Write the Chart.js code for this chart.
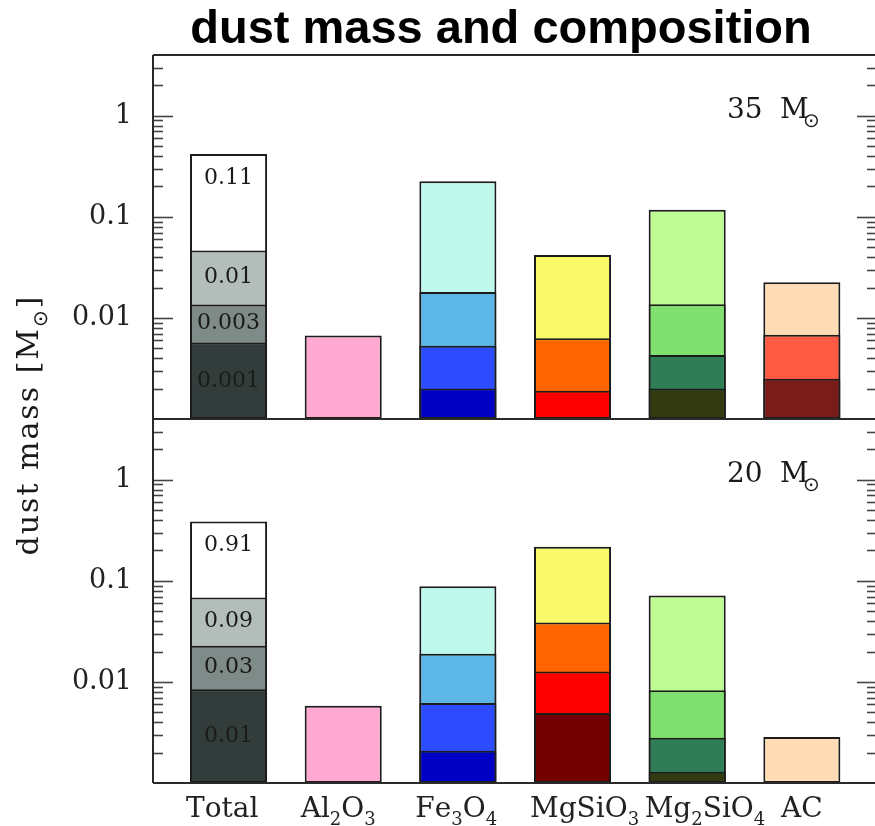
<!DOCTYPE html>
<html><head><meta charset="utf-8">
<script src="https://cdn.jsdelivr.net/npm/chart.js@4/dist/chart.umd.min.js"></script>
<style>html,body{margin:0;padding:0;background:#fff;overflow:hidden}</style>
</head><body>
<canvas id="c" width="875" height="826"></canvas>
<script>
// ---- data ----
const categories = ['Total', 'Al₂O₃', 'Fe₃O₄', 'MgSiO₃', 'Mg₂SiO₄', 'AC'];
const yTickValues = [0.01, 0.1, 1];
const panelMasses = ['35', '20'];
// 35 Msun panel: layers from outermost (largest) to innermost
const m35Layer1 = [0.42, 0.0067, 0.225, 0.042, 0.118, 0.0225];
const m35Layer2 = [0.0465, null, 0.0181, 0.0063, 0.0137, 0.0068];
const m35Layer3 = [0.0136, null, 0.0053, 0.0019, 0.0043, 0.0025];
const m35Layer4 = [0.0057, null, 0.0020, null, 0.0020, null];
// 20 Msun panel
const m20Layer1 = [0.388, 0.0058, 0.0885, 0.218, 0.0716, 0.00286];
const m20Layer2 = [0.0684, null, 0.019, 0.0388, 0.00826, null];
const m20Layer3 = [0.0228, null, 0.0062, 0.0127, 0.0028, null];
const m20Layer4 = [0.00845, null, 0.00208, 0.00493, 0.00129, null];
// labels written inside the Total bar
const totalLabels35 = ['0.11', '0.01', '0.003', '0.001'];
const totalLabels20 = ['0.91', '0.09', '0.03', '0.01'];

// ---- colours per layer, per category ----
const layer1Colors = ['#ffffff', '#ffa8d2', '#bff9ec', '#f9f96a', '#c0fc94', '#ffdcb6'];
const layer2Colors = ['#b3bdba', '#ffa8d2', '#5cb7e6', '#ff6400', '#80e070', '#ff5a44'];
const layer3Colors = ['#7e8b88', '#ffa8d2', '#2e4cff', '#ff0000', '#2f7d57', '#7a1c1a'];
const layer4Colors = ['#323d3b', '#ffa8d2', '#0000c4', '#720000', '#333a10', '#7a1c1a'];

function makeDs(values, colors, axis, order, name) {
  return {
    label: name,
    data: values.map((v, i) => (v == null ? null : { x: i + 1, y: v })).filter(Boolean),
    yAxisID: axis,
    order: order,
    backgroundColor: (c) => colors[c.raw.x - 1],
    borderColor: '#1c1c1c',
    borderWidth: 2,
    borderSkipped: false,
    barPercentage: 0.84,
    categoryPercentage: 0.8
  };
}

const datasets = [
  makeDs(m35Layer1, layer1Colors, 'yTop', 4, '35-1'),
  makeDs(m35Layer2, layer2Colors, 'yTop', 3, '35-2'),
  makeDs(m35Layer3, layer3Colors, 'yTop', 2, '35-3'),
  makeDs(m35Layer4, layer4Colors, 'yTop', 1, '35-4'),
  makeDs(m20Layer1, layer1Colors, 'yBot', 4, '20-1'),
  makeDs(m20Layer2, layer2Colors, 'yBot', 3, '20-2'),
  makeDs(m20Layer3, layer3Colors, 'yBot', 2, '20-3'),
  makeDs(m20Layer4, layer4Colors, 'yBot', 1, '20-4')
];

const serif = '"DejaVu Serif", "Liberation Serif", serif';
const SUBS = '₀₁₂₃₄₅₆₇₈₉';

function yScale(weight) {
  return {
    type: 'logarithmic',
    min: 0.001, max: 4,
    position: 'left',
    stack: 'panels',
    stackWeight: 1,
    weight: weight,
    afterBuildTicks: (s) => { s.ticks = yTickValues.map(v => ({ value: v })); },
    afterFit: (s) => { s.width = 153; },
    grid: { display: false, drawTicks: false },
    border: { display: false },
    ticks: { font: { family: serif, size: 27 }, color: '#222', padding: 21, autoSkip: false,
      callback: (v) => String(v) }
  };
}

// draw a label, turning unicode subscript digits into lowered smaller digits
function drawSubText(ctx, text, cx, barLeft, baseline, size) {
  const parts = [];
  for (const ch of text) {
    const k = SUBS.indexOf(ch);
    if (k >= 0) parts.push({ t: String(k), sub: true });
    else parts.push({ t: ch, sub: false });
  }
  const mainFont = size + 'px ' + serif, subFont = Math.round(size * 0.64) + 'px ' + serif;
  let w = 0;
  parts.forEach(p => { ctx.font = p.sub ? subFont : mainFont; p.w = ctx.measureText(p.t).width; w += p.w; });
  let x = w < 60 ? cx - w / 2 : barLeft - 4;
  ctx.textAlign = 'left'; ctx.textBaseline = 'alphabetic';
  parts.forEach(p => {
    ctx.font = p.sub ? subFont : mainFont;
    ctx.fillText(p.t, x, baseline + (p.sub ? size * 0.3 : 0));
    x += p.w;
  });
}

const decor = {
  id: 'decor',
  afterDraw(chart) {
    const ctx = chart.ctx, ca = chart.chartArea;
    const yT = chart.scales.yTop, yB = chart.scales.yBot, xs = chart.scales.x;
    const rightEdge = ca.right + 2;
    ctx.save();
    const line = (x1, y1, x2, y2) => { ctx.beginPath(); ctx.moveTo(x1, y1); ctx.lineTo(x2, y2); ctx.stroke(); };
    // inward tick marks on both sides
    ctx.strokeStyle = '#444'; ctx.lineWidth = 1.6;
    [yT, yB].forEach(s => {
      for (let e = -3; e <= 0; e++) for (let m = 1; m <= 9; m++) {
        const v = Number((m * Math.pow(10, e)).toPrecision(3));
        if (v <= s.min * 1.001 || v >= s.max * 0.999) continue;
        const y = Math.round(s.getPixelForValue(v)) + 0.5;
        const len = m === 1 ? 20 : 10;
        line(ca.left, y, ca.left + len, y);
        line(rightEdge, y, rightEdge - len, y);
      }
    });
    // frame
    ctx.strokeStyle = '#2a2a2a'; ctx.lineWidth = 2;
    line(ca.left, yT.top, rightEdge, yT.top);
    line(ca.left, yT.bottom, rightEdge, yT.bottom);
    line(ca.left, yB.bottom, rightEdge, yB.bottom);
    line(ca.left, yT.top, ca.left, yB.bottom);
    line(rightEdge, yT.top, rightEdge, yB.bottom);

    // category labels under the x axis
    ctx.fillStyle = '#222';
    const outer = chart.getDatasetMeta(4).data;
    categories.forEach((c, i) => {
      const bar = outer[i];
      drawSubText(ctx, c, xs.getPixelForValue(i + 1), bar.x - bar.width / 2, yB.bottom + 34, 28);
    });

    // labels inside the Total bar
    ctx.fillStyle = '#1a1a1a';
    ctx.font = '22px ' + serif;
    ctx.textAlign = 'center'; ctx.textBaseline = 'middle';
    [[0, totalLabels35], [4, totalLabels20]].forEach(([d0, labels]) => {
      for (let k = 0; k < 4; k++) {
        const bar = chart.getDatasetMeta(d0 + k).data[0];
        let y;
        if (k === 0) y = bar.y + 24;
        else if (k < 3) y = (bar.y + chart.getDatasetMeta(d0 + k + 1).data[0].y) / 2;
        else y = (bar.y + bar.base) / 2;
        ctx.fillText(labels[k], bar.x, y);
      }
    });

    // panel annotations (mass of progenitor)
    ctx.textAlign = 'left'; ctx.textBaseline = 'alphabetic';
    [yT, yB].forEach((s, i) => {
      const x0 = ca.right - 148, yb = s.top + 63;
      ctx.font = '28px ' + serif;
      ctx.fillText(panelMasses[i], x0, yb);
      ctx.fillText('M', x0 + 53, yb);
      ctx.font = '20px "DejaVu Sans", sans-serif';
      ctx.fillText('⊙', x0 + 76, yb + 9);
    });

    // y-axis title
    ctx.save();
    const cy = (yT.top + yB.bottom) / 2 + 6;
    ctx.translate(38, cy);
    ctx.rotate(-Math.PI / 2);
    ctx.letterSpacing = '2px';
    ctx.font = '30px ' + serif;
    const t1 = 'dust mass [M';
    const w1 = ctx.measureText(t1).width;
    ctx.font = '20px "DejaVu Sans", sans-serif';
    const w2 = ctx.measureText('⊙').width;
    ctx.font = '30px ' + serif;
    const w3 = ctx.measureText(']').width;
    const tot = w1 + w2 + w3;
    let x = -tot / 2;
    ctx.textAlign = 'left'; ctx.textBaseline = 'alphabetic';
    ctx.fillText(t1, x, 0); x += w1;
    ctx.font = '20px "DejaVu Sans", sans-serif';
    ctx.fillText('⊙', x, 9); x += w2;
    ctx.font = '30px ' + serif;
    ctx.fillText(']', x, 0);
    ctx.restore();

    // main title
    ctx.fillStyle = '#000';
    ctx.font = 'bold 47px "Liberation Sans", Arial, sans-serif';
    ctx.textAlign = 'center'; ctx.textBaseline = 'alphabetic';
    ctx.fillText('dust mass and composition', 501, 43);
    ctx.restore();
  }
};

new Chart(document.getElementById('c'), {
  type: 'bar',
  data: { datasets },
  options: {
    responsive: false,
    animation: false,
    layout: { padding: { top: 55, left: 0, right: 0, bottom: 0 } },
    plugins: { legend: { display: false }, tooltip: { enabled: false }, title: { display: false } },
    scales: {
      x: {
        type: 'linear', min: 0.341, max: 6.638, stacked: true, offset: false,
        afterBuildTicks: (s) => { s.ticks = categories.map((c, i) => ({ value: i + 1 })); },
        afterFit: (s) => { s.height = 43; },
        grid: { display: false, drawTicks: false, offset: false },
        border: { display: false },
        ticks: { display: false }
      },
      yTop: yScale(2),
      yBot: yScale(1)
    }
  },
  plugins: [decor]
});
</script>
</body></html>
